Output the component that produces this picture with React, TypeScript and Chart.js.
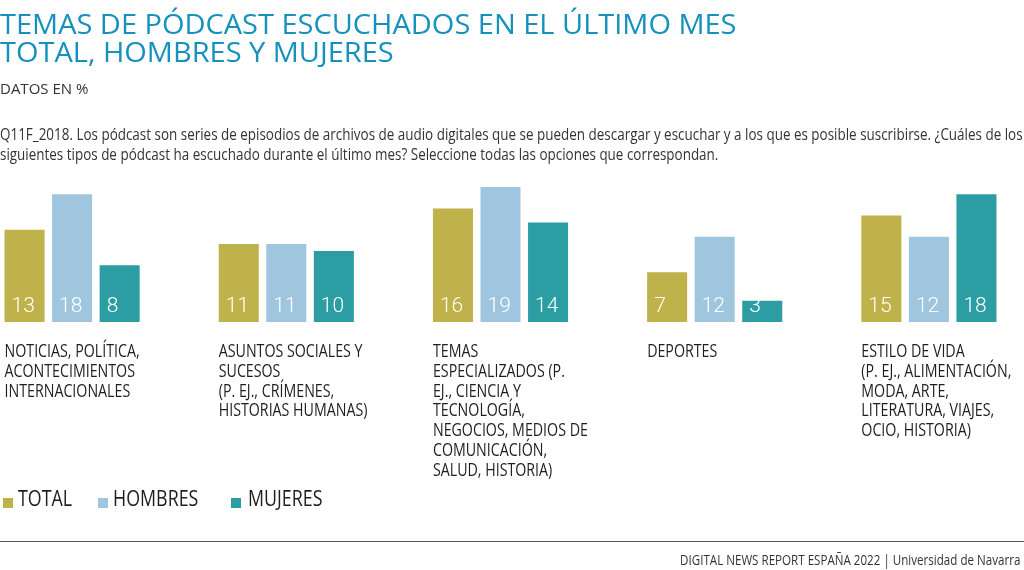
import React, { useEffect, useRef } from "react";
import { Chart, registerables } from "chart.js";

Chart.register(...registerables);

const categories: string[][] = [
  ["NOTICIAS, POLÍTICA,", "ACONTECIMIENTOS", "INTERNACIONALES"],
  ["ASUNTOS SOCIALES Y", "SUCESOS", "(P. EJ., CRÍMENES,", "HISTORIAS HUMANAS)"],
  ["TEMAS", "ESPECIALIZADOS (P.", "EJ., CIENCIA Y", "TECNOLOGÍA,", "NEGOCIOS, MEDIOS DE", "COMUNICACIÓN,", "SALUD, HISTORIA)"],
  ["DEPORTES"],
  ["ESTILO DE VIDA", "(P. EJ., ALIMENTACIÓN,", "MODA, ARTE,", "LITERATURA, VIAJES,", "OCIO, HISTORIA)"],
];
const seriesNames = ["TOTAL", "HOMBRES", "MUJERES"];
const totalValues = [13, 11, 16, 7, 15];
const hombresValues = [18, 11, 19, 12, 12];
const mujeresValues = [8, 10, 14, 3, 18];
const seriesColors = ["#bfb24a", "#9fc6de", "#2c9da3"];

const titleLines = ["TEMAS DE PÓDCAST ESCUCHADOS EN EL ÚLTIMO MES", "TOTAL, HOMBRES Y MUJERES"];
const subtitle = "DATOS EN %";
const questionLines = [
  "Q11F_2018. Los pódcast son series de episodios de archivos de audio digitales que se pueden descargar y escuchar y a los que es posible suscribirse. ¿Cuáles de los",
  "siguientes tipos de pódcast ha escuchado durante el último mes? Seleccione todas las opciones que correspondan.",
];
const footerText = "DIGITAL NEWS REPORT ESPAÑA 2022 | Universidad de Navarra";

const FONT = '"Open Sans", sans-serif';

const labelPlugin = {
  id: "groupLabels",
  afterDatasetsDraw(chart: any) {
    const ctx = chart.ctx as CanvasRenderingContext2D;
    chart.data.datasets.forEach((ds: any, di: number) => {
      const meta = chart.getDatasetMeta(di);
      meta.data.forEach((el: any, i: number) => {
        const { x, width, base } = el.getProps(["x", "width", "base"], true);
        ctx.save();
        ctx.fillStyle = "#ffffff";
        ctx.font = "300 21px Roboto";
        ctx.textAlign = "left";
        ctx.textBaseline = "alphabetic";
        ctx.fillText(String(ds.data[i]), x - width / 2 + 7, base - 10);
        ctx.restore();
      });
    });
    const meta0 = chart.getDatasetMeta(0);
    meta0.data.forEach((el: any, i: number) => {
      const { x, width, base } = el.getProps(["x", "width", "base"], true);
      const left = x - width / 2;
      categories[i].forEach((line, li) => {
        ctx.save();
        ctx.translate(left, base + 35 + li * 19.8);
        ctx.scale(0.79, 1);
        ctx.font = "18px " + FONT;
        ctx.fillStyle = "#1e1e1e";
        ctx.textAlign = "left";
        ctx.textBaseline = "alphabetic";
        ctx.fillText(line, 0, 0);
        ctx.restore();
      });
    });
  },
};

function BarChart() {
  const ref = useRef<HTMLCanvasElement | null>(null);
  useEffect(() => {
    if (!ref.current) return;
    const chart = new Chart(ref.current, {
      type: "bar",
      data: {
        labels: categories.map((c) => c.join(" ")),
        datasets: [totalValues, hombresValues, mujeresValues].map((d, k) => ({
          label: seriesNames[k],
          data: d,
          backgroundColor: seriesColors[k],
          borderWidth: 0,
          categoryPercentage: 0.666,
          barPercentage: 0.842,
        })),
      },
      options: {
        animation: false,
        responsive: true,
        maintainAspectRatio: false,
        layout: { padding: { top: 180, bottom: 248, left: 0, right: 0 } },
        plugins: { legend: { display: false }, tooltip: { enabled: false } },
        scales: {
          x: { display: false },
          y: { display: false, min: 0, max: 20 },
        },
      },
      plugins: [labelPlugin],
    });
    return () => chart.destroy();
  }, []);
  return <canvas ref={ref} />;
}

export default function App() {
  const text = (extra: React.CSSProperties): React.CSSProperties => ({
    position: "absolute",
    fontFamily: FONT,
    whiteSpace: "nowrap",
    margin: 0,
    ...extra,
  });
  return (
    <div
      style={{
        position: "fixed",
        left: 0,
        top: 0,
        width: 1024,
        height: 570,
        overflow: "hidden",
        background: "#ffffff",
      }}
    >
      <div style={{ position: "absolute", left: -35, top: 0, width: 1071, height: 570 }}>
        <BarChart />
      </div>
      {titleLines.map((t, i) => (
        <div
          key={t}
          style={text({
            left: 0,
            top: 8.5 + i * 28.4,
            fontSize: 28,
            lineHeight: "28px",
            color: "#1591bd",
            transform: "scaleX(1.035)",
            transformOrigin: "left top",
          })}
        >
          {t}
        </div>
      ))}
      <div style={text({ left: 0, top: 80.5, fontSize: 15, lineHeight: "15px", color: "#333" })}>{subtitle}</div>
      {questionLines.map((q, i) => (
        <div
          key={i}
          style={text({
            left: 0,
            top: 125.5 + i * 20,
            fontSize: 16,
            lineHeight: "16px",
            color: "#333",
            transform: "scaleX(0.84)",
            transformOrigin: "left top",
          })}
        >
          {q}
        </div>
      ))}
      {seriesNames.map((n, k) => {
        const lefts = [3, 98, 231];
        return (
          <React.Fragment key={n}>
            <div
              style={{
                position: "absolute",
                left: lefts[k],
                top: 498,
                width: 10,
                height: 10,
                background: seriesColors[k],
              }}
            />
            <div
              style={text({
                left: lefts[k] + (k === 2 ? 17 : 15),
                top: 488.4,
                fontSize: 21,
                lineHeight: "21px",
                color: "#1e1e1e",
                transform: "scaleX(0.85)",
                transformOrigin: "left top",
              })}
            >
              {n}
            </div>
          </React.Fragment>
        );
      })}
      <div style={{ position: "absolute", left: 0, top: 541, width: 1024, height: 1, background: "#555" }} />
      <div
        style={text({
          right: 4,
          top: 552.5,
          fontSize: 14.5,
          lineHeight: "14.5px",
          color: "#333",
          transform: "scaleX(0.8)",
          transformOrigin: "right top",
        })}
      >
        {footerText}
      </div>
    </div>
  );
}
